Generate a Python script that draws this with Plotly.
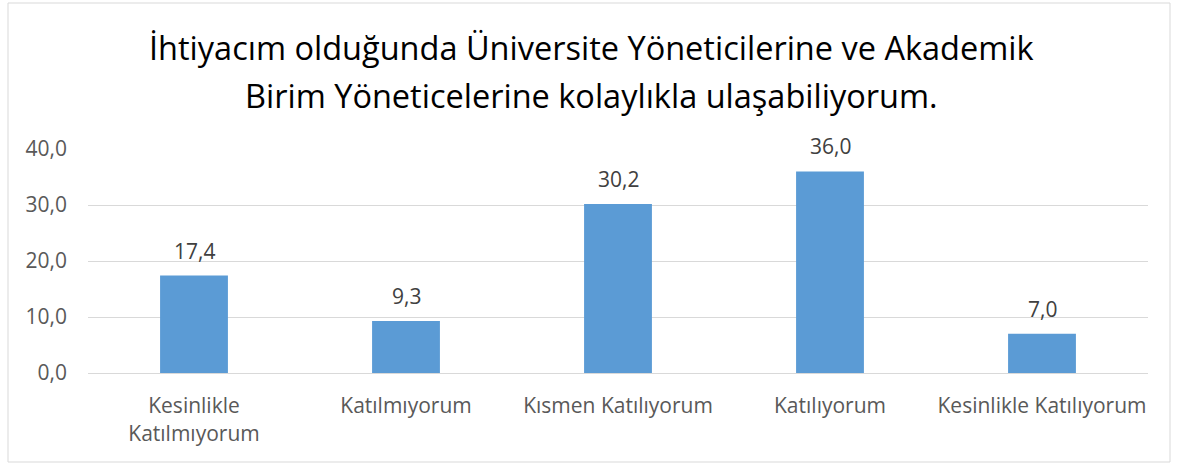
import plotly.graph_objects as go

categories = ["Kesinlikle<br>Katılmıyorum", "Katılmıyorum", "Kısmen Katılıyorum", "Katılıyorum", "Kesinlikle Katılıyorum"]
values = [17.4, 9.3, 30.2, 36.0, 7.0]
title_lines = ["İhtiyacım olduğunda Üniversite Yöneticilerine ve Akademik",
               "Birim Yöneticelerine kolaylıkla ulaşabiliyorum."]

labels = [f"{v:.1f}".replace(".", ",") for v in values]

W, H = 1178, 467
L, R, T, B = 88, 30, 149, 94
pw, ph = W - L - R, H - T - B

def px_x(px):
    return (px - L) / pw

def px_y(py):
    return (H - B - py) / ph

FONT = "Open Sans"

fig = go.Figure(go.Bar(
    x=categories, y=values,
    marker=dict(color="#5B9BD5", line=dict(width=0)),
    width=0.32,
))

annotations = []
for c, v, t in zip(categories, values, labels):
    annotations.append(dict(x=c, y=v, xref="x", yref="y", text=t, showarrow=False,
                            yanchor="middle", yshift=25,
                            font=dict(family=FONT, size=21, color="#404040")))
for line, py in zip(title_lines, [47, 95]):
    annotations.append(dict(x=px_x(591), y=px_y(py), xref="paper", yref="paper",
                            text=line, showarrow=False, xanchor="center", yanchor="middle",
                            font=dict(family=FONT, size=32.5, color="#000000")))

fig.update_layout(
    width=W, height=H,
    margin=dict(l=L, r=R, t=T, b=B),
    paper_bgcolor="white", plot_bgcolor="white",
    separators=",.",
    showlegend=False,
    annotations=annotations,
    xaxis=dict(showgrid=False, showline=True, linecolor="#D9D9D9", linewidth=1,
               ticks="", ticklabelstandoff=14,
               tickfont=dict(family=FONT, size=21, color="#595959")),
    yaxis=dict(range=[0, 40], dtick=10, tickformat=".1f", showgrid=True,
               gridcolor="#D9D9D9", gridwidth=1, zeroline=False, showline=False,
               ticks="", ticklabelstandoff=20,
               tickfont=dict(family=FONT, size=21, color="#595959")),
    shapes=[dict(type="rect", xref="paper", yref="paper",
                 x0=px_x(8), x1=px_x(1170), y0=px_y(462), y1=px_y(3),
                 line=dict(color="#D9D9D9", width=1), fillcolor="rgba(0,0,0,0)", layer="below")],
)

fig.write_html("out.html", config={"displayModeBar": False},
               post_script="document.body.style.margin='0px';")
